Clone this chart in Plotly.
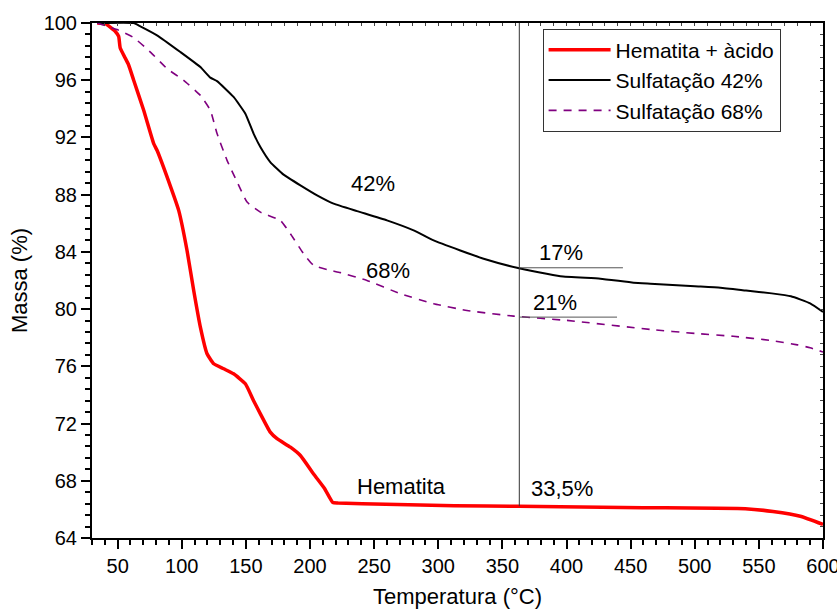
import plotly.graph_objects as go

# Hematita + àcido (red)
temp_hem = [34, 40.4, 48.2, 50.8, 52, 55.9, 58.5, 62.5, 70.3, 78.1, 80.7, 91.1, 97.6,
            104.1, 109.3, 114.5, 119.7, 124.9, 132.7, 140.4, 149.6, 156, 161.3, 169,
            174.3, 184.7, 192.5, 203.1, 211.2, 217.8, 221.9, 259, 312.5, 363, 459.5,
            539.4, 561, 582.3, 600]
mass_hem = [100, 99.95, 99.41, 99.06, 98.25, 97.55, 97.08, 96.0, 93.9, 91.57, 91.1, 88.6,
            86.9, 84.1, 81.3, 78.74, 76.88, 76.18, 75.83, 75.48, 74.78, 73.6, 72.68, 71.4,
            70.94, 70.35, 69.77, 68.44, 67.48, 66.48, 66.45, 66.36, 66.26, 66.22, 66.12,
            66.05, 65.85, 65.52, 64.95]

# Sulfatação 42% (black)
temp_42 = [34, 62.5, 67.7, 80.7, 98.9, 114.5, 122.3, 127.5, 140.4, 149.6, 156, 161.3,
           169, 179.4, 192.5, 205.5, 218.4, 236.7, 260, 280.8, 296.4, 317.2, 335.4,
           361.4, 395.2, 426.4, 452.3, 465.4, 500, 520, 540, 560, 575, 590, 600]
mass_42 = [100, 100, 99.77, 99.14, 97.97, 96.92, 96.18, 95.94, 94.83, 93.66, 92.27, 91.33,
           90.28, 89.4, 88.65, 87.95, 87.37, 86.85, 86.2, 85.5, 84.8, 84.1, 83.52,
           82.89, 82.3, 82.13, 81.85, 81.78, 81.6, 81.5, 81.3, 81.1, 80.9, 80.4, 79.8]

# Sulfatação 68% (purple dashed)
temp_68 = [34, 49.5, 62.5, 75.5, 88.5, 101.5, 114.5, 122.3, 127.5, 135.3, 143.1, 150.9,
           161.3, 176.9, 184.7, 195, 202.8, 215.8, 223.6, 244.4, 270.4, 296.4, 322.4,
           358.8, 400.4, 465.4, 500, 530, 560, 580, 590, 600]
mass_68 = [100, 99.54, 98.98, 97.97, 96.81, 95.99, 94.94, 93.9, 92.27, 90.4, 88.9, 87.48,
           86.78, 86.2, 85.27, 83.87, 83.06, 82.71, 82.55, 82.0, 81.08, 80.38, 79.9,
           79.51, 79.21, 78.58, 78.3, 78.1, 77.8, 77.5, 77.3, 77.0]

# reference marks
t_mark = 363.2
mass_top = 100.35
mass_hem_mark = 66.22
mass_42_mark = 82.89
mass_68_mark = 79.44
t_end_42 = 444
t_end_68 = 439.4

font = "Liberation Sans, Arial, sans-serif"

fig = go.Figure()
fig.add_trace(go.Scatter(x=temp_hem, y=mass_hem, mode="lines", name="Hematita + àcido",
                         line=dict(color="#ff0000", width=3.5, shape="spline", smoothing=0.4)))
fig.add_trace(go.Scatter(x=temp_42, y=mass_42, mode="lines", name="Sulfatação 42%",
                         line=dict(color="#000000", width=2, shape="spline", smoothing=0.4)))
fig.add_trace(go.Scatter(x=temp_68, y=mass_68, mode="lines", name="Sulfatação 68%",
                         line=dict(color="#800080", width=1.6, dash="8px,7px",
                                   shape="spline", smoothing=0.4)))
# dummy trace so the mirrored axes get drawn
fig.add_trace(go.Scatter(x=[None], y=[None], xaxis="x2", yaxis="y2", showlegend=False,
                         hoverinfo="skip"))

# vertical marker and the two horizontal segments
fig.add_shape(type="line", x0=t_mark, x1=t_mark, y0=mass_hem_mark, y1=mass_top,
              line=dict(color="#333333", width=1))
fig.add_shape(type="line", x0=t_mark, x1=t_end_42, y0=mass_42_mark, y1=mass_42_mark,
              line=dict(color="#555555", width=1))
fig.add_shape(type="line", x0=t_mark, x1=t_end_68, y0=mass_68_mark, y1=mass_68_mark,
              line=dict(color="#555555", width=1))

labels = [("42%", 249, 88.77), ("68%", 260.7, 82.7), ("17%", 395.6, 83.99),
          ("21%", 391.3, 80.49), ("Hematita", 271.2, 67.6), ("33,5%", 396.2, 67.43)]
for txt, xx, yy in labels:
    fig.add_annotation(x=xx, y=yy, text=txt, showarrow=False,
                       font=dict(family=font, size=22, color="black"))

axis_common = dict(showgrid=False, zeroline=False, linecolor="black", linewidth=2,
                   ticks="outside", tickcolor="black", tickwidth=2, ticklen=9,
                   automargin=False, ticklabeloverflow="allow",
                   tickfont=dict(family=font, size=20, color="black"))

fig.update_layout(
    width=837, height=609,
    margin=dict(l=92, r=14, t=23, b=71),
    paper_bgcolor="white", plot_bgcolor="white",
    font=dict(family=font, color="black"),
    xaxis=dict(range=[30, 600.01], dtick=50, tick0=0, mirror=True,
               minor=dict(dtick=10, tick0=0, ticks="outside", ticklen=5, tickwidth=2,
                          tickcolor="black"),
               title=dict(text="Temperatura (°C)", font=dict(family=font, size=22),
                          standoff=13),
               **axis_common),
    yaxis=dict(range=[64, 100], dtick=4, tick0=64, mirror=True,
               minor=dict(dtick=0.8, tick0=64, ticks="outside", ticklen=5, tickwidth=2,
                          tickcolor="black"),
               title=dict(text="Massa (%)", font=dict(family=font, size=22), standoff=10),
               **axis_common),
    xaxis2=dict(overlaying="x", side="top", anchor="y", range=[30, 600.01], dtick=10,
                tick0=0, ticks="inside", ticklen=3, tickwidth=1, tickcolor="#444444",
                automargin=False,
                showticklabels=False, showgrid=False, zeroline=False, showline=False),
    yaxis2=dict(overlaying="y", side="right", anchor="x", range=[64, 100], dtick=0.8,
                tick0=64, ticks="inside", ticklen=3, tickwidth=1, tickcolor="#444444",
                automargin=False,
                showticklabels=False, showgrid=False, zeroline=False, showline=False),
    legend=dict(x=0.6164, y=0.989, xanchor="left", yanchor="top",
                bgcolor="white", bordercolor="#333333", borderwidth=1,
                font=dict(family=font, size=21, color="black"),
                tracegroupgap=0, itemwidth=62),
    showlegend=True,
)

# drop the default page margin so the figure sits at the window's corner
fig.write_html("out.html", config={"displayModeBar": False},
               post_script="document.body.style.margin='0px';")
